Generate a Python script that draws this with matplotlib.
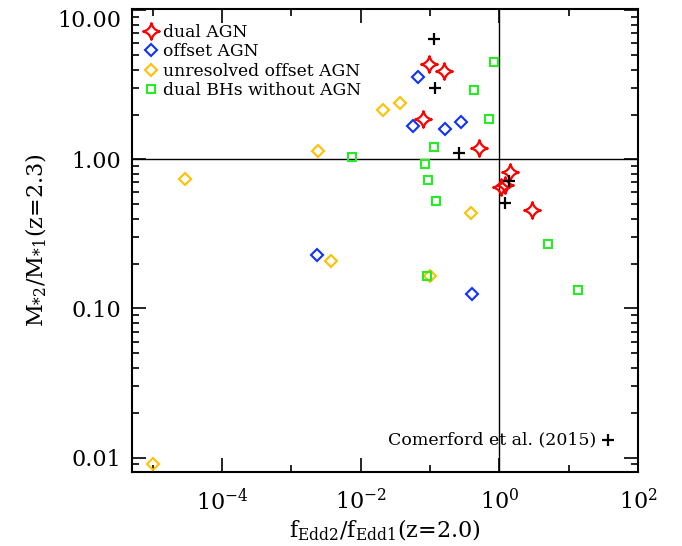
import matplotlib
matplotlib.use("Agg")
import matplotlib.pyplot as plt
import matplotlib.ticker as mticker
from matplotlib.path import Path
import numpy as np

plt.rcParams['font.family'] = ['DejaVu Serif']
plt.rcParams['mathtext.fontset'] = 'dejavuserif'

# dual AGN (red stars)
dual_x = [0.098, 0.161, 0.078, 0.50, 1.44, 1.06, 1.20, 2.96]
dual_y = [4.36, 3.93, 1.86, 1.20, 0.818, 0.655, 0.67, 0.461]
# offset AGN (blue diamonds)
off_x = [0.066, 0.056, 0.164, 0.28, 0.00237, 0.398]
off_y = [3.55, 1.67, 1.61, 1.79, 0.227, 0.126]
# unresolved offset AGN (orange diamonds)
unres_x = [2.95e-5, 0.00239, 0.0207, 0.0373, 0.00377, 0.391, 0.10, 1.0e-5]
unres_y = [0.735, 1.14, 2.14, 2.40, 0.207, 0.434, 0.165, 0.0091]
# dual BHs without AGN (green squares)
nob_x = [0.85, 0.436, 0.70, 0.115, 0.00748, 0.0847, 0.0924, 0.122, 0.0905, 4.98, 13.5]
nob_y = [4.48, 2.92, 1.88, 1.21, 1.04, 0.93, 0.726, 0.527, 0.165, 0.270, 0.133]
# Comerford et al. (2015) (black crosses)
com_x = [0.115, 0.119, 0.265, 1.39, 1.22]
com_y = [6.42, 3.03, 1.10, 0.715, 0.507]

# four-pointed sparkle marker with concave sides
c = 0.18
star_path = Path(
    [(0, 1), (c, c), (1, 0), (c, -c), (0, -1), (-c, -c), (-1, 0), (-c, c), (0, 1), (0, 1)],
    [Path.MOVETO, Path.CURVE3, Path.CURVE3, Path.CURVE3, Path.CURVE3,
     Path.CURVE3, Path.CURVE3, Path.CURVE3, Path.CURVE3, Path.CLOSEPOLY])

fig = plt.figure(figsize=(6.82, 5.46), dpi=100)
ax = fig.add_axes([0.1935, 0.1355, 0.742, 0.848])
ax.set_xscale('log')
ax.set_yscale('log')
ax.set_xlim(5e-6, 1e2)
ax.set_ylim(0.008, 10.2)

ax.axhline(1.0, color='black', lw=1.0, zorder=1)
ax.axvline(1.0, color='black', lw=1.0, zorder=1)

ax.plot(dual_x, dual_y, ls='none', marker=star_path, ms=12, mfc='none', mec='red', mew=1.6,
        label='dual AGN', zorder=4)
ax.plot(off_x, off_y, ls='none', marker='D', ms=6.5, mfc='none', mec='#1030ff', mew=1.5,
        label='offset AGN', zorder=3)
ax.plot(unres_x, unres_y, ls='none', marker='D', ms=6.5, mfc='none', mec='#ffc000', mew=1.5,
        label='unresolved offset AGN', zorder=3)
ax.plot(nob_x, nob_y, ls='none', marker='s', ms=6, mfc='none', mec='#22ee22', mew=1.5,
        label='dual BHs without AGN', zorder=3)
ax.plot(com_x, com_y, ls='none', marker='+', ms=8, mec='black', mew=1.6, zorder=5)

leg = ax.legend(loc='upper left', bbox_to_anchor=(-0.012, 1.0), frameon=False,
                handletextpad=0.15, borderaxespad=0.55,
                labelspacing=0.15, handlelength=1.2, fontsize=12.3,
                borderpad=0.3)

ax.text(0.918, 0.069, 'Comerford et al. (2015)', transform=ax.transAxes,
        ha='right', va='center', fontsize=12.5)
ax.plot([0.94], [0.069], transform=ax.transAxes, marker='+', ms=8, mec='black', mew=1.6,
        ls='none', clip_on=False)

ax.xaxis.set_major_locator(mticker.FixedLocator([1e-4, 1e-2, 1e0, 1e2]))
ax.xaxis.set_minor_locator(mticker.FixedLocator([1e-5, 1e-3, 1e-1, 1e1]))
ax.xaxis.set_major_formatter(mticker.FuncFormatter(
    lambda v, p: r'$10^{%d}$' % int(round(np.log10(v)))))
ax.xaxis.set_minor_formatter(mticker.NullFormatter())

ax.yaxis.set_major_locator(mticker.FixedLocator([0.01, 0.1, 1.0, 10.0]))
ax.yaxis.set_minor_locator(mticker.LogLocator(base=10, subs=np.arange(2, 10)))
ax.yaxis.set_major_formatter(mticker.FixedFormatter(['0.01', '0.10', '1.00', '10.00']))
ax.yaxis.set_minor_formatter(mticker.NullFormatter())

ax.tick_params(which='both', direction='in', top=True, right=True, labelsize=16,
               width=1.2)
ax.tick_params(which='major', length=10, pad=8)
ax.tick_params(axis='x', which='major', pad=12)
ax.tick_params(which='minor', length=5)
for s in ax.spines.values():
    s.set_linewidth(1.5)

ax.set_xlabel(r'f$_{\rm Edd2}$/f$_{\rm Edd1}$(z=2.0)', fontsize=16, labelpad=2)
ax.set_ylabel(r'M$_{*2}$/M$_{*1}$(z=2.3)', fontsize=16, labelpad=6)

fig.canvas.draw()
for lab in ax.get_yticklabels():
    if lab.get_text() == '10.00':
        lab.set_verticalalignment('top')

fig.savefig('out.png', dpi=100)
